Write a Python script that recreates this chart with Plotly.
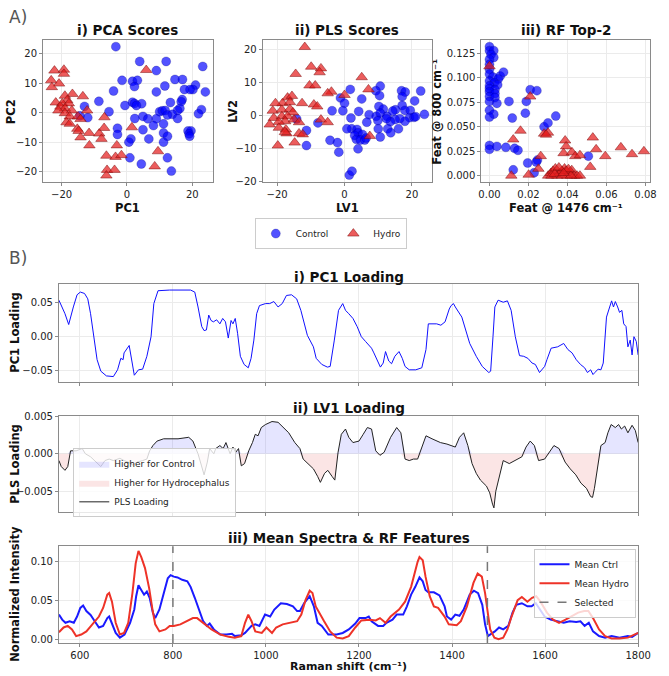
import numpy as np
import plotly.graph_objects as go

W, H = 669, 676
def px(x): return x / W
def py(y): return 1 - y / H

# ---------------- data ----------------
pca_ctrl_x = [-3.4,3.9,12.0,23.2,9.0,14.7,17.0,-1.5,1.7,3.2,11.6,2.3,21.0,20.2,19.3,17.6,24.0,9.0,-4.1,16.9,16.6,-8.6,13.3,1.7,2.3,4.5,-0.6,2.9,-13.0,22.8,16.2,15.5,-5.5,10.0,10.8,11.7,13.9,21.9,4.9,12.4,-12.0,-14.4,2.4,6.4,9.0,15.5,8.1,11.2,4.9,-2.9,-2.9,18.7,19.6,19.0,19.2,6.7,1.2,0.6,11.2,12.4,11.2,0.9,4.4,12.4,13.6]
pca_ctrl_y = [22.3,17.3,17.3,15.6,14.2,11.2,11.2,10.9,10.6,10.9,9.0,8.8,9.3,7.8,7.8,7.8,7.0,7.0,7.3,4.4,3.7,3.8,3.4,3.5,3.1,3.0,2.4,2.4,2.1,1.0,1.4,0.7,0.3,0.3,0.6,0.7,-0.6,-0.4,-1.3,-0.8,-1.7,-1.1,-2.0,-2.1,-2.1,-2.0,-4.4,-3.8,-5.8,-5.3,-7.4,-6.2,-6.2,-7.2,-8.0,-8.9,-8.9,-10.0,-6.9,-8.0,-10.0,-15.3,-17.4,-15.3,-19.8]
pca_hydro_x = [-22.2,-19.3,-19.3,-23.2,-20.8,-23.0,5.9,-16.7,-13.5,-19.0,-18.3,-21.8,-19.8,-17.8,-20.4,-19.0,-21.0,-16.9,-12.2,-19.0,-17.5,-15.0,-14.2,-6.9,-18.5,-17.5,-15.2,-14.8,-11.6,-7.0,-8.5,-14.2,-7.8,-11.5,-3.1,1.5,-6.3,-3.5,-1.7,9.5,8.5,-6.1,-3.8,-6.3]
pca_hydro_y = [14.2,14.5,13.1,10.9,9.8,8.6,14.4,6.3,5.5,5.7,4.2,3.4,3.1,3.1,2.0,1.4,0.7,0.7,0.7,-0.2,-1.3,-1.3,-2.2,-1.6,-3.3,-3.8,-5.5,-6.2,-6.9,-5.2,-7.1,-8.4,-8.9,-11.1,-11.1,-5.0,-14.6,-15.0,-14.4,-13.1,-18.2,-19.4,-19.4,-21.3]

pls_ctrl_x = [1.7,10.6,9.3,10.4,16.9,18.0,22.6,17.1,5.1,-1.2,0.0,20.8,17.1,-3.7,-0.5,4.2,10.2,11.5,7.3,9.4,10.6,12.6,15.1,14.3,17.9,19.5,19.3,20.6,23.7,21.1,17.9,16.4,15.0,13.6,9.9,6.6,1.9,2.1,0.7,3.7,4.0,5.3,3.0,3.5,4.7,6.0,6.4,4.0,-4.3,-2.1,-1.7,10.0,10.6,12.8,13.7,16.0,1.4,2.2,-11.3,-11.3,-7.9,-14.2,12.4]
pls_ctrl_y = [8.0,9.0,7.6,6.1,7.6,7.2,7.5,5.8,5.1,5.4,3.8,4.5,3.1,1.5,1.5,1.3,2.8,2.0,0.3,-0.2,0.8,-0.2,1.8,1.4,1.6,1.6,-0.6,-0.5,0.4,-0.3,-1.7,-0.9,-1.2,-1.8,-1.5,-2.0,-0.7,-4.0,-4.0,-4.2,-5.2,-5.7,-6.0,-7.2,-7.4,-7.4,-6.8,-10.1,-7.5,-8.2,-11.1,-4.0,-6.5,-4.0,-5.2,-4.0,-18.1,-16.9,-4.5,-9.1,-2.2,-1.0,-0.9]
pls_hydro_x = [-11.8,-9.9,-7.0,-7.4,-14.5,5.1,-10.4,-8.7,7.1,-3.9,-5.0,0.0,-16.9,-15.6,-18.4,-20.5,-12.6,-16.2,-9.1,-8.1,-21.3,-18.6,-16.2,-15.3,-21.0,-18.6,-16.9,-17.6,-19.5,-15.0,-13.5,-7.0,-5.0,-22.2,-19.5,-17.4,-17.2,-13.5,-12.4,-14.8,-19.8,7.5,-17.7]
pls_hydro_y = [20.9,14.9,14.4,13.2,12.7,11.7,9.2,9.2,8.0,7.3,6.8,6.3,5.5,6.0,3.8,3.8,3.8,4.1,3.4,2.8,1.5,1.8,2.0,1.0,-0.7,-0.2,-0.2,-1.7,-1.9,-1.2,-2.0,-1.2,-2.0,-2.7,-3.7,-4.2,-5.4,-5.4,-5.7,-8.2,-9.1,-6.2,-5.0]

rf_ctrl_x = [0,0,0.0022,0.0008,0.0022,0,0,0,0,0.0017,0.0055,0.0072,0.0045,0,0.0025,0.0042,0,0,0.0028,0,0.0028,0,0.0028,0,0.0038,0.010,0.0189,0.0209,0.0243,0,0.0022,0,0.0117,0.0184,0.034,0.028,0.030,0,0,0.0038,0.0084,0.0129,0.0146,0.0507,0.0246,0.024,0.0196,0.0122,0.0229]
rf_ctrl_y = [0.132,0.128,0.128,0.124,0.121,0.119,0.114,0.109,0.104,0.101,0.102,0.106,0.099,0.097,0.095,0.093,0.092,0.089,0.088,0.086,0.084,0.081,0.080,0.076,0.074,0.076,0.076,0.088,0.087,0.067,0.063,0.060,0.059,0.064,0.061,0.050,0.054,0.031,0.027,0.030,0.029,0.028,0.026,0.020,0.016,0.014,0.013,0.006,0.003]
rf_hydro_x = [0,0.0209,0.0159,0.0122,0.028,0.030,0.029,0.0388,0.0393,0.038,0.0423,0.044,0.0464,0.053,0.0547,0.0594,0.0517,0.0674,0.0731,0.0792,0.0263,0.0251,0.0112,0.0201,
              0.0301,0.0315,0.0326,0.0338,0.0348,0.036,0.0372,0.0385,0.0398,0.041,0.0422,0.0435,0.0449,0.0464,0.0318,0.0335,0.0373,0.0393,0.0418,0.0405,0.0356,0.038]
rf_hydro_y = [0.112,0.081,0.046,0.037,0.043,0.044,0.042,0.036,0.030,0.023,0.024,0.020,0.021,0.039,0.027,0.020,0.009,0.029,0.022,0.025,0.020,0.007,0.000,0.001,
              0,0.0027,0.005,0.0074,0,0.0027,0.005,0.0074,0,0.0034,0.0057,0,0,0,0,0.0017,0,0.005,0,0.0067,0.0084,0.0027]

pc1_x = [555,560,568,576,580,586,594,601,610,617,623,630,637,645,657,672,681,688,693,695,706,717,726,735,744,753,759,768,793,838,847,854,862,867,872,877,882,887,894,901,907,913,919,925,929,934,939,945,953,962,968,974,980,986,999,1008,1017,1026,1035,1044,1055,1066,1075,1089,1102,1108,1120,1132,1138,1147,1156,1165,1171,1178,1187,1196,1205,1214,1221,1227,1232,1241,1246,1252,1257,1264,1270,1277,1286,1293,1299,1308,1322,1335,1344,1349,1367,1376,1385,1394,1398,1403,1407,1421,1430,1438,1452,1465,1479,1483,1488,1492,1499,1510,1519,1527,1536,1545,1554,1563,1572,1579,1588,1599,1604,1613,1627,1640,1649,1658,1667,1676,1685,1691,1698,1703,1707,1714,1720,1725,1732,1738,1743,1747,1751,1756,1760,1765,1769,1774,1778,1783,1787,1791,1796,1800]
pc1_y = [0.054,0.046,0.034,0.018,0.029,0.044,0.062,0.066,0.064,0.056,0.034,0.0,-0.034,-0.051,-0.058,-0.059,-0.049,-0.032,-0.034,-0.024,-0.013,-0.057,-0.049,-0.048,-0.029,0.0,0.049,0.068,0.069,0.069,0.066,0.044,0.015,0.009,0.010,0.032,0.024,0.022,0.025,0.019,0.027,0.022,-0.002,0.024,0.019,0.027,0.005,-0.029,-0.041,-0.046,-0.032,-0.005,0.034,0.046,0.049,0.049,0.052,0.044,0.049,0.061,0.062,0.056,0.039,0.002,-0.015,-0.032,-0.041,-0.045,-0.044,-0.005,0.039,0.049,0.039,0.034,0.027,0.015,0.0,-0.007,-0.012,-0.017,-0.024,-0.039,-0.045,-0.039,-0.022,-0.036,-0.040,-0.029,-0.022,-0.032,-0.044,-0.049,-0.049,-0.046,-0.019,0.019,0.019,0.017,0.022,0.041,0.046,0.049,0.044,0.029,0.010,-0.010,-0.029,-0.044,-0.053,-0.051,0.0,0.044,0.054,0.051,0.053,0.039,0.0,-0.028,-0.029,-0.032,-0.039,-0.041,-0.053,-0.044,-0.034,-0.017,-0.015,-0.010,-0.019,-0.024,-0.034,-0.041,-0.046,-0.053,-0.049,-0.056,-0.053,-0.048,-0.049,-0.039,0.029,0.044,0.053,0.044,0.052,0.044,0.036,0.039,0.019,0.015,-0.015,-0.005,-0.027,0.0,-0.007,-0.027]

lv1_x = [555,560,568,574,580,592,605,612,623,637,645,654,663,672,686,695,704,714,723,735,744,750,757,766,780,811,834,843,854,861,867,874,879,888,892,901,908,914,923,929,935,941,947,954,963,971,977,983,990,999,1013,1026,1035,1049,1062,1073,1080,1093,1102,1111,1117,1126,1133,1142,1148,1155,1162,1171,1178,1187,1200,1209,1218,1227,1236,1245,1254,1268,1281,1290,1299,1308,1317,1326,1335,1344,1357,1375,1389,1398,1407,1416,1425,1434,1443,1452,1461,1474,1481,1487,1490,1494,1505,1510,1523,1536,1550,1559,1568,1577,1586,1599,1610,1619,1630,1643,1654,1666,1677,1689,1698,1702,1706,1714,1720,1729,1735,1742,1751,1758,1764,1771,1778,1787,1794,1800]
lv1_y = [-0.0009,-0.0017,-0.0022,-0.0017,0.0004,0.0004,0.0007,0.0,-0.0004,-0.0013,-0.0017,-0.0009,-0.0007,-0.0009,-0.0006,-0.0009,-0.0011,-0.0015,-0.0011,-0.0009,-0.0007,0.0004,0.0011,0.0017,0.0020,0.0020,0.0022,0.0017,0.0,-0.0015,-0.0028,-0.0011,0.0007,0.0,0.0007,0.0011,0.0007,0.0015,0.0,0.0009,0.0002,0.0007,-0.0016,-0.0013,0.0004,0.0015,0.0026,0.0024,0.0035,0.0039,0.0043,0.0042,0.0037,0.0028,0.0015,0.0007,-0.0007,-0.0015,-0.0020,-0.0030,-0.0038,-0.0026,-0.0022,-0.0030,-0.0035,0.0002,0.0026,0.0033,0.0022,0.0015,0.0017,0.0026,0.0035,0.0033,0.0004,-0.0002,0.0002,0.0022,0.0035,0.0028,-0.0007,-0.0009,-0.0007,-0.0007,0.0009,0.0024,0.0020,0.0015,0.0013,0.0011,0.0009,0.0022,0.0028,0.0011,-0.0013,-0.0026,-0.0035,-0.0043,-0.0052,-0.0067,-0.0072,-0.0050,-0.0024,-0.0009,-0.0013,-0.0009,-0.0004,0.0009,0.0017,0.0011,-0.0009,-0.0007,0.0002,0.0011,0.0007,-0.0011,-0.0020,-0.0028,-0.0039,-0.0046,-0.0057,-0.0058,-0.0046,-0.0015,0.0011,0.0015,0.0028,0.0039,0.0035,0.0039,0.0033,0.0037,0.0028,0.0038,0.0031,0.0015]

ctrl_x = [555,562,569,578,587,594,601,607,614,623,632,641,650,659,663,669,677,686,696,708,717,721,726,730,738,744,750,757,762,771,780,789,795,802,810,820,831,838,847,856,865,873,879,888,902,915,927,933,947,955,969,977,986,998,1009,1018,1032,1045,1058,1067,1073,1082,1094,1103,1111,1120,1134,1152,1165,1178,1192,1201,1214,1221,1227,1241,1252,1259,1272,1281,1295,1303,1312,1321,1330,1337,1343,1349,1361,1373,1384,1389,1398,1407,1416,1425,1438,1447,1456,1465,1471,1477,1483,1492,1501,1510,1521,1530,1538,1550,1562,1571,1580,1590,1599,1612,1626,1640,1653,1667,1676,1685,1694,1703,1716,1729,1743,1760,1778,1787,1800]
ctrl_y = [0.0325,0.026,0.022,0.024,0.022,0.030,0.041,0.044,0.037,0.032,0.024,0.016,0.018,0.028,0.030,0.020,0.009,0.003,0.007,0.022,0.039,0.056,0.070,0.066,0.058,0.062,0.054,0.035,0.028,0.039,0.060,0.079,0.083,0.081,0.080,0.077,0.075,0.068,0.054,0.039,0.024,0.018,0.021,0.0135,0.007,0.007,0.008,0.005,0.006,0.009,0.018,0.020,0.018,0.0325,0.030,0.039,0.047,0.046,0.043,0.037,0.037,0.047,0.056,0.043,0.022,0.018,0.007,0.007,0.009,0.0135,0.021,0.028,0.028,0.030,0.024,0.018,0.018,0.022,0.026,0.0325,0.0325,0.043,0.058,0.068,0.080,0.075,0.064,0.061,0.061,0.057,0.043,0.030,0.026,0.0325,0.031,0.039,0.058,0.063,0.060,0.045,0.020,0.005,0.007,0.011,0.016,0.0135,0.018,0.035,0.045,0.047,0.043,0.043,0.047,0.038,0.030,0.026,0.024,0.022,0.024,0.023,0.024,0.018,0.022,0.011,0.005,0.003,0.005,0.003,0.005,0.004,0.009]

hydro_x = [555,565,574,583,592,603,614,627,641,650,659,663,669,677,686,695,704,713,720,726,732,740,749,756,762,771,784,793,802,816,829,843,852,865,883,902,920,933,947,955,962,969,977,991,1001,1013,1022,1036,1053,1067,1076,1085,1094,1100,1107,1116,1125,1138,1152,1165,1178,1192,1205,1223,1236,1245,1257,1268,1286,1299,1312,1326,1330,1337,1343,1352,1361,1370,1384,1393,1410,1419,1432,1446,1455,1464,1471,1478,1482,1491,1500,1510,1519,1528,1541,1550,1562,1572,1581,1590,1604,1617,1630,1644,1657,1671,1684,1693,1703,1716,1729,1743,1760,1778,1800]
hydro_y = [0.010,0.016,0.018,0.0135,0.005,0.007,0.011,0.020,0.030,0.041,0.058,0.060,0.049,0.022,0.007,0.009,0.022,0.060,0.098,0.114,0.106,0.092,0.066,0.039,0.020,0.011,0.0135,0.018,0.018,0.020,0.024,0.028,0.028,0.022,0.0135,0.007,0.004,0.003,0.005,0.022,0.0325,0.024,0.011,0.009,0.016,0.009,0.016,0.020,0.022,0.024,0.0325,0.051,0.063,0.060,0.043,0.0325,0.024,0.011,0.003,0.002,0.005,0.016,0.025,0.026,0.025,0.028,0.022,0.030,0.039,0.049,0.068,0.100,0.106,0.102,0.081,0.056,0.043,0.041,0.030,0.020,0.019,0.024,0.043,0.073,0.085,0.081,0.060,0.030,0.0135,0.003,0.001,0.003,0.0135,0.030,0.051,0.055,0.049,0.054,0.056,0.049,0.035,0.026,0.022,0.026,0.030,0.035,0.037,0.037,0.028,0.0135,0.005,0.002,0.002,0.003,0.009]

selected_features = [800, 1476]

# ---------------- styles ----------------
FONT = "DejaVu Sans"
BLUE = "rgba(0,0,255,0.68)"
RED = "rgba(228,30,30,0.72)"
GRID = "#ebebeb"
FRAME = "#8a8a8a"

fig = go.Figure()

def circ(x, y, xa, ya, show):
    return go.Scatter(x=x, y=y, xaxis=xa, yaxis=ya, mode="markers", name="Control",
                      showlegend=show, legend="legend",
                      marker=dict(symbol="circle", size=9, color=BLUE,
                                  line=dict(color="rgba(0,0,120,0.5)", width=0.5)))

def tri(x, y, xa, ya, show):
    return go.Scatter(x=x, y=y, xaxis=xa, yaxis=ya, mode="markers", name="Hydro",
                      showlegend=show, legend="legend",
                      marker=dict(symbol="triangle-up", size=10, color=RED,
                                  line=dict(color="rgba(120,10,10,0.8)", width=0.6)))

fig.add_trace(circ(pca_ctrl_x, pca_ctrl_y, "x", "y", True))
fig.add_trace(tri(pca_hydro_x, pca_hydro_y, "x", "y", True))
fig.add_trace(circ(pls_ctrl_x, pls_ctrl_y, "x2", "y2", False))
fig.add_trace(tri(pls_hydro_x, pls_hydro_y, "x2", "y2", False))
fig.add_trace(circ(rf_ctrl_x, rf_ctrl_y, "x3", "y3", False))
fig.add_trace(tri(rf_hydro_x, rf_hydro_y, "x3", "y3", False))

# PC1 loading
fig.add_trace(go.Scatter(x=pc1_x, y=pc1_y, xaxis="x4", yaxis="y4", mode="lines",
                         line=dict(color="#1010ff", width=1), showlegend=False))

# LV1 loading with fills
lv = np.array(lv1_y)
fig.add_trace(go.Scatter(x=lv1_x, y=np.maximum(lv, 0), xaxis="x5", yaxis="y5", mode="lines",
                         fill="tozeroy", fillcolor="rgba(80,80,255,0.15)", line=dict(width=0, color="rgba(0,0,0,0)"),
                         name="Higher for Control", legend="legend2"))
fig.add_trace(go.Scatter(x=lv1_x, y=np.minimum(lv, 0), xaxis="x5", yaxis="y5", mode="lines",
                         fill="tozeroy", fillcolor="rgba(230,80,80,0.15)", line=dict(width=0, color="rgba(0,0,0,0)"),
                         name="Higher for Hydrocephalus", legend="legend2"))
fig.add_trace(go.Scatter(x=lv1_x, y=lv1_y, xaxis="x5", yaxis="y5", mode="lines",
                         line=dict(color="#222", width=1), name="PLS Loading", legend="legend2"))

# Mean spectra
fig.add_trace(go.Scatter(x=ctrl_x, y=ctrl_y, xaxis="x6", yaxis="y6", mode="lines",
                         line=dict(color="#1a1aff", width=2), name="Mean Ctrl", legend="legend3"))
fig.add_trace(go.Scatter(x=hydro_x, y=hydro_y, xaxis="x6", yaxis="y6", mode="lines",
                         line=dict(color="#ee3328", width=2), name="Mean Hydro", legend="legend3"))
fig.add_trace(go.Scatter(x=[None], y=[None], xaxis="x6", yaxis="y6", mode="lines",
                         line=dict(color="#777", width=1.5, dash="dash"), name="Selected", legend="legend3"))
for f in selected_features:
    fig.add_shape(type="line", xref="x6", yref="y6 domain", x0=f, x1=f, y0=0, y1=1,
                  line=dict(color="#777", width=1.5, dash="dash"))

# ---------------- axes ----------------
def axstyle(**kw):
    d = dict(showline=True, mirror=True, linecolor=FRAME, linewidth=1, showgrid=True,
             gridcolor=GRID, gridwidth=1, zeroline=False, ticks="outside", ticklen=3,
             tickcolor=FRAME, tickfont=dict(family=FONT, size=10, color="#222"))
    d.update(kw)
    return d

top_y = [py(180), py(36)]
lay = dict(
    xaxis=axstyle(domain=[px(41), px(215)], anchor="y", range=[-25.7, 26.3], tickvals=[-20, 0, 20]),
    yaxis=axstyle(domain=top_y, anchor="x", range=[-23.6, 24.4], tickvals=[-20, -10, 0, 10, 20]),
    xaxis2=axstyle(domain=[px(266), px(439)], anchor="y2", range=[-24.3, 25.8], tickvals=[-20, 0, 20]),
    yaxis2=axstyle(domain=top_y, anchor="x2", range=[-20.3, 22.9], tickvals=[-20, -10, 0, 10, 20]),
    xaxis3=axstyle(domain=[px(490), px(663)], anchor="y3", range=[-0.0042, 0.0824],
                   tickvals=[0, 0.02, 0.04, 0.06, 0.08], tickformat=".2f"),
    yaxis3=axstyle(domain=top_y, anchor="x3", range=[-0.0068, 0.1384],
                   tickvals=[0, 0.025, 0.05, 0.075, 0.1, 0.125], tickformat=".3f"),
)
bx = [px(57.3), px(650.7)]
xr = [555, 1800]
xt = [600, 800, 1000, 1200, 1400, 1600, 1800]
lay.update(
    xaxis4=axstyle(domain=bx, anchor="y4", range=xr, tickvals=xt, showticklabels=False),
    yaxis4=axstyle(domain=[py(382.3), py(283.3)], anchor="x4", range=[-0.0665, 0.0778],
                   tickvals=[-0.05, 0, 0.05], tickformat=".2f"),
    xaxis5=axstyle(domain=bx, anchor="y5", range=xr, tickvals=xt, showticklabels=False),
    yaxis5=axstyle(domain=[py(515), py(416.7)], anchor="x5", range=[-0.0078, 0.0051],
                   tickvals=[-0.005, 0, 0.005], tickformat=".3f"),
    xaxis6=axstyle(domain=bx, anchor="y6", range=xr, tickvals=xt, ticklen=2.5),
    yaxis6=axstyle(domain=[py(647.7), py(549.3)], anchor="x6", range=[-0.004, 0.120],
                   tickvals=[0, 0.05, 0.10], tickformat=".2f"),
)

legfont = dict(family=FONT, size=9, color="#222")
lay.update(
    legend=dict(orientation="h", x=0.502, y=py(232), xanchor="center", yanchor="middle",
                bgcolor="white", bordercolor="#cccccc", borderwidth=1, font=legfont, itemwidth=30),
    legend2=dict(x=px(72), y=py(450), xanchor="left", yanchor="top", bgcolor="rgba(255,255,255,0.8)",
                 bordercolor="#cccccc", borderwidth=1, font=legfont, tracegroupgap=0, itemwidth=30),
    legend3=dict(x=px(648), y=py(552), xanchor="right", yanchor="top", bgcolor="rgba(255,255,255,0.8)",
                 bordercolor="#cccccc", borderwidth=1, font=legfont, tracegroupgap=0, itemwidth=30),
)

fig.update_layout(width=W, height=H, margin=dict(l=0, r=0, t=0, b=0),
                  plot_bgcolor="white", paper_bgcolor="white",
                  font=dict(family=FONT, color="#222"), **lay)

def ann(text, x, y, size, angle=0, bold=True, color="#111", xanchor="center"):
    t = f"<b>{text}</b>" if bold else text
    fig.add_annotation(text=t, x=px(x), y=py(y), xref="paper", yref="paper", showarrow=False,
                       xanchor=xanchor, yanchor="middle", textangle=angle,
                       font=dict(family=FONT, size=size, color=color))

ann("A)", 4, 12, 17, bold=False, color="#555", xanchor="left")
ann("B)", 4, 257, 17, bold=False, color="#555", xanchor="left")
ann("i) PCA Scores", 128, 25, 13.5)
ann("ii) PLS Scores", 352.5, 25, 13.5)
ann("iii) RF Top-2", 576.5, 25, 13.5)
ann("PC1", 128, 206, 11.5)
ann("LV1", 352.5, 206, 11.5)
ann("Feat @ 1476 cm⁻¹", 576.5, 206, 11.5)
ann("PC2", 9, 108, 11.5, angle=-90)
ann("LV2", 236, 108, 11.5, angle=-90)
ann("Feat @ 800 cm⁻¹", 445, 108, 11.5, angle=-90)
ann("i) PC1 Loading", 354, 276, 13.5)
ann("ii) LV1 Loading", 354, 409, 13.5)
ann("iii) Mean Spectra & RF Features", 354, 541, 13.5)
ann("PC1 Loading", 12, 333, 11.5, angle=-90)
ann("PLS Loading", 12, 466, 11.5, angle=-90)
ann("Normalized Intensity", 12, 598, 11.5, angle=-90)
ann("Raman shift (cm⁻¹)", 354, 671.5, 11)

fig.write_html("out.html")
